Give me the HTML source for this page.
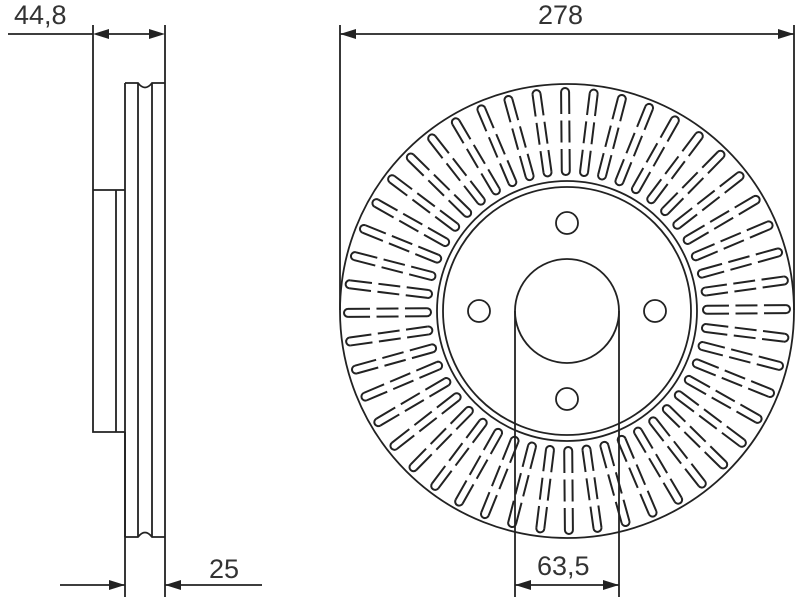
<!DOCTYPE html>
<html><head><meta charset="utf-8"><style>
html,body{margin:0;padding:0;background:#fff;width:800px;height:600px;overflow:hidden}
svg{display:block}
text{font-family:"Liberation Sans",sans-serif;font-size:27px;fill:#333}
</style></head><body>
<svg id="s" width="800" height="600" viewBox="0 0 800 600" xmlns="http://www.w3.org/2000/svg">
<defs>
<g id="slot" fill="none" stroke="#222" stroke-width="2">
<path d="M-4,-140 L-4,-219" stroke-dasharray="22,6.5"/>
<path d="M4,-140 L4,-219" stroke-dasharray="22,6.5"/>
<path d="M-4,-219 A4,4 0 0 1 4,-219"/>
<path d="M4,-140 A4,4 0 0 1 -4,-140"/>
</g>
</defs>
<g stroke="#222" stroke-width="1.8" fill="none">
<line x1="8" y1="34" x2="93" y2="34"/>
<line x1="93" y1="25" x2="93" y2="190"/>
<line x1="165" y1="25" x2="165" y2="597"/>
<line x1="125" y1="432" x2="125" y2="597"/>
<path d="M93,190 L125,190 M93,190 L93,432 L125,432"/>
<line x1="116" y1="190" x2="116" y2="432"/>
<path d="M125,83 L138,83 Q145,92 152,83 L165,83 M125,83 L125,432 M125,537 L138,537 Q145,528 152,537 L165,537"/>
<line x1="138" y1="83" x2="138" y2="537"/>
<line x1="152" y1="83" x2="152" y2="537"/>
<line x1="125" y1="432" x2="125" y2="537"/>
<line x1="102" y1="34" x2="157" y2="34"/>
<line x1="60" y1="585" x2="125" y2="585"/>
<line x1="165" y1="585" x2="262" y2="585"/>
<line x1="340" y1="25" x2="340" y2="310"/>
<line x1="794" y1="25" x2="794" y2="310"/>
<line x1="340" y1="34" x2="794" y2="34"/>
<circle cx="567" cy="311" r="227"/>
<circle cx="567" cy="311" r="130"/>
<circle cx="567" cy="311" r="124"/>
<circle cx="567" cy="311" r="52"/>
<circle cx="567" cy="223" r="11"/>
<circle cx="567" cy="399" r="11"/>
<circle cx="479" cy="311" r="11"/>
<circle cx="655" cy="311" r="11"/>
<line x1="515" y1="311" x2="515" y2="597"/>
<line x1="619" y1="311" x2="619" y2="597"/>
<line x1="515" y1="585" x2="619" y2="585"/>
</g>
<g id="slots" transform="translate(567,311)"></g>
<g fill="#222">
<polygon points="93,34 109,29 109,39"/>
<polygon points="165,34 149,29 149,39"/>
<polygon points="125,585 109,580 109,590"/>
<polygon points="165,585 181,580 181,590"/>
<polygon points="340,34 356,29 356,39"/>
<polygon points="794,34 778,29 778,39"/>
<polygon points="515,585 531,580 531,590"/>
<polygon points="619,585 603,580 603,590"/>
</g>
<text x="14" y="24">44,8</text>
<text x="209" y="578">25</text>
<text x="538" y="24">278</text>
<text x="537" y="575">63,5</text>
</svg>
<script>
var g=document.getElementById('slots');
for(var i=0;i<48;i++){
var u=document.createElementNS('http://www.w3.org/2000/svg','use');
u.setAttribute('href','#slot');
u.setAttributeNS('http://www.w3.org/1999/xlink','xlink:href','#slot');
u.setAttribute('transform','rotate('+(i*7.5-0.5)+')');
g.appendChild(u);}
</script>
</body></html>
